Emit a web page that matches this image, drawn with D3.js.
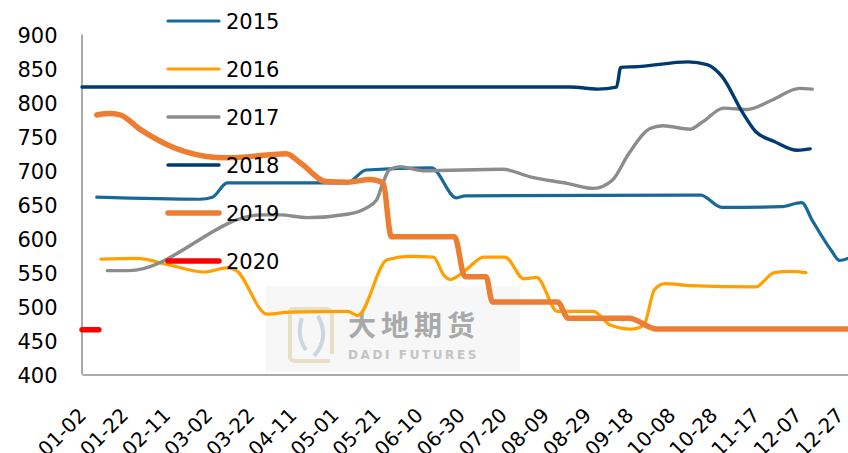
<!DOCTYPE html>
<html><head><meta charset="utf-8">
<script src="https://cdn.jsdelivr.net/npm/d3@7/dist/d3.min.js"></script>
<style>
html,body{margin:0;padding:0;background:#fff;}
svg{display:block;}
</style></head>
<body>
<svg id="chart" width="848" height="453"></svg>
<script>
// ---- data (MM-DD dates on a 2020 calendar, values) ----
const tickLabels = ["01-02","01-22","02-11","03-02","03-22","04-11","05-01","05-21","06-10","06-30","07-20","08-09","08-29","09-18","10-08","10-28","11-17","12-07","12-27"];
const yTicks = [400,450,500,550,600,650,700,750,800,850,900];
const seriesNames = ["2015","2016","2017","2018","2019","2020"];

const dates2015 = ["01-09","02-27","03-04","03-11","05-07","05-16","06-16","06-28","07-02","10-22","11-01","11-29","12-09","12-14","12-23","12-27","12-31"];
const values2015 = [660,657,660,681,681,700,703,659,662,663,645,646,652,626,582,567,570];

const dates2016 = ["01-11","01-28","02-13","02-29","03-11","03-15","03-30","04-10","05-07","05-12","05-26","06-06","06-17","06-22","06-25","07-02","07-11","07-21","07-30","08-05","08-15","09-01","09-09","09-19","09-25","09-30","10-05","10-17","11-17","11-26","12-04","12-11"];
const values2016 = [569,570,560,550,556,553,488,491,492,486,568,573,572,545,539,552,572,572,540,542,492,492,472,466,472,524,533,530,528,549,551,549];

const dates2017 = ["01-14","01-24","03-27","04-05","04-18","05-07","05-16","05-21","05-24","05-27","06-01","06-12","07-20","08-02","08-20","09-01","09-10","09-18","09-28","10-04","10-17","10-23","11-02","11-13","11-25","12-08","12-14"];
const values2017 = [552,552,634,634,630,635,644,656,681,700,705,699,701,690,680,673,685,725,761,765,760,771,791,789,803,820,819];

const dates2018 = ["01-02","08-21","09-03","09-12","09-14","09-22","10-16","10-25","11-01","11-11","11-17","11-26","12-07","12-13"];
const values2018 = [822,822,819,822,851,852,859,855,838,784,757,742,729,731];

const dates2019 = ["01-09","01-15","01-20","01-30","02-11","02-20","03-01","03-11","03-30","04-08","04-15","04-27","05-07","05-18","05-24","05-28","06-27","07-02","07-12","07-15","08-15","08-20","09-18","10-01","12-31"];
const values2019 = [781,783,781,759,738,727,720,718,722,724,710,683,682,686,681,602,602,543,543,506,506,482,482,466,466];

const dates2020 = ["01-02","01-10"];
const values2020 = [465,465];

const colors = ["#17699c","#ffa000","#8c8c8c","#003a70","#ed7d31","#ff0000"];
const widths = [3.2,3.2,3.4,3.4,5.5,5.5];

// ---- build ----
const parse = d3.timeParse("%Y-%m-%d");
const toDate = s => parse("2020-" + s);
const allDates = [dates2015,dates2016,dates2017,dates2018,dates2019,dates2020];
const allValues = [values2015,values2016,values2017,values2018,values2019,values2020];
const series = seriesNames.map((name,i)=>({
  name, color: colors[i], width: widths[i],
  points: allDates[i].map((d,j)=>({date: toDate(d), value: allValues[i][j]}))
}));

const svg = d3.select("#chart");
const x = d3.scaleTime().domain([toDate("01-02"), toDate("12-31")]).range([82, 848]);
const y = d3.scaleLinear().domain([400, 900]).range([374, 34]);
const FONT = "'DejaVu Sans', sans-serif";

// watermark
const wm = svg.append("g");
wm.append("rect").attr("x", 266).attr("y", 286).attr("width", 254).attr("height", 86).attr("fill", "#f7f7f7");
wm.append("path").attr("d", "M290,309 L326,309 Q332,309 332,315 L332,354 M290,309 L290,356 Q290,361 295,361 L330,361")
  .attr("fill","none").attr("stroke","#e9dfc6").attr("stroke-width",4);
wm.append("path").attr("d", "M302,318 Q296,336 306,350 M318,316 Q330,338 314,356")
  .attr("fill","none").attr("stroke","#cbd5e3").attr("stroke-width",4);
wm.append("text").attr("x", 348).attr("y", 336).attr("font-family", "'Noto Sans CJK SC', sans-serif")
  .attr("font-size", 28).attr("font-weight", "bold").attr("fill", "#a9a9a9").attr("letter-spacing", 5).text("大地期货");
wm.append("text").attr("x", 348).attr("y", 359).attr("font-family", "'DejaVu Sans', sans-serif")
  .attr("font-size", 12).attr("font-weight", "bold").attr("fill", "#c4c4c4").attr("letter-spacing", 2.6).text("DADI FUTURES");

// axes
const yAxis = d3.axisLeft(y).tickValues(yTicks).tickSize(0).tickPadding(0);
const gy = svg.append("g").attr("transform", "translate(81.5,0)").call(yAxis);
gy.select(".domain").attr("stroke", "#8c8c8c").attr("stroke-width", 1.5);
gy.selectAll(".tick text").attr("x", -24).attr("dy", "0.4em").attr("font-family", FONT).attr("font-size", 21).attr("fill", "#000");

const xAxis = d3.axisBottom(x).tickValues(tickLabels.map(toDate)).tickFormat(d3.timeFormat("%m-%d")).tickSize(0).tickPadding(0);
const gx = svg.append("g").attr("transform", "translate(0,374.5)").call(xAxis);
gx.select(".domain").attr("stroke", "#8c8c8c").attr("stroke-width", 1.5);
gx.selectAll(".tick text")
  .attr("font-family", FONT).attr("font-size", 20).attr("fill", "#000")
  .attr("text-anchor", "end").attr("y", 0).attr("dy", 0)
  .attr("transform", "translate(5,42) rotate(-45)");

// lines
const line = d3.line().x(d => x(d.date)).y(d => y(d.value)).curve(d3.curveMonotoneX);
svg.append("g").selectAll("path").data(series).join("path")
  .attr("d", d => line(d.points))
  .attr("fill", "none")
  .attr("stroke", d => d.color)
  .attr("stroke-width", d => d.width)
  .attr("stroke-linejoin", "round")
  .attr("stroke-linecap", "round");

// legend
const lg = svg.append("g");
series.forEach((s,i)=>{
  const ly = 21 + i*48;
  lg.append("line").attr("x1", 168).attr("x2", 219).attr("y1", ly).attr("y2", ly)
    .attr("stroke", s.color).attr("stroke-width", s.width).attr("stroke-linecap", "round");
  lg.append("text").attr("x", 226).attr("y", ly).attr("dy", "0.37em")
    .attr("font-family", FONT).attr("font-size", 21).attr("fill", "#000").text(s.name);
});
</script>
</body></html>
